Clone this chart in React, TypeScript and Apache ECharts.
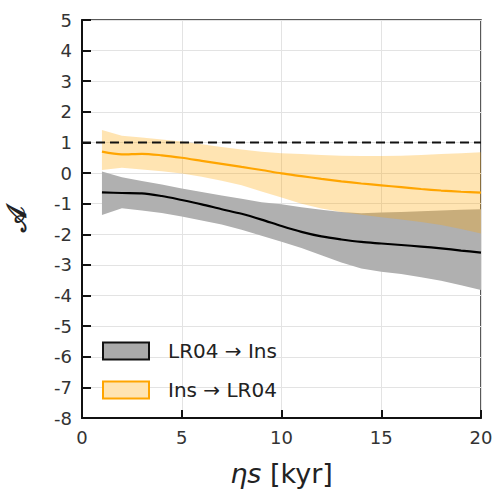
import React, { useEffect, useRef } from "react";
import * as echarts from "echarts";

const xs = [1, 2, 3, 4, 5, 6, 7, 8, 9, 10, 11, 12, 13, 14, 15, 16, 17, 18, 19, 20];

const lrMean = [-0.63, -0.65, -0.66, -0.75, -0.88, -1.02, -1.18, -1.33, -1.52, -1.73, -1.92, -2.07, -2.17, -2.25, -2.3, -2.35, -2.4, -2.46, -2.53, -2.6];
const lrUpper = [0.05, -0.14, -0.26, -0.37, -0.5, -0.62, -0.73, -0.84, -0.95, -1.02, -1.12, -1.2, -1.27, -1.31, -1.29, -1.27, -1.25, -1.22, -1.2, -1.18];
const lrLower = [-1.37, -1.15, -1.22, -1.3, -1.42, -1.55, -1.68, -1.85, -2.05, -2.24, -2.45, -2.68, -2.92, -3.12, -3.22, -3.3, -3.4, -3.52, -3.66, -3.82];

const insMean = [0.7, 0.61, 0.63, 0.58, 0.5, 0.4, 0.3, 0.2, 0.1, -0.01, -0.1, -0.19, -0.27, -0.34, -0.4, -0.46, -0.52, -0.57, -0.61, -0.64];
const insUpper = [1.41, 1.22, 1.16, 1.1, 1.03, 0.94, 0.85, 0.77, 0.7, 0.65, 0.62, 0.59, 0.57, 0.56, 0.56, 0.57, 0.59, 0.62, 0.65, 0.68];
const insLower = [0.1, 0.17, 0.12, 0.06, -0.01, -0.12, -0.25, -0.4, -0.6, -0.8, -1.0, -1.16, -1.27, -1.36, -1.44, -1.52, -1.6, -1.7, -1.83, -1.97];

const refLine = [[0, 1], [20, 1]];

const seriesNames = ["LR04 \u2192 Ins", "Ins \u2192 LR04"];

function bandSeries(name: string, upper: number[], lower: number[], fill: string, z: number) {
  const data = xs.map((x, i) => [x, lower[i], upper[i]]);
  return {
    type: "custom",
    name,
    z,
    clip: true,
    silent: true,
    encode: { x: 0, y: [1, 2] },
    data,
    itemStyle: { color: fill },
    renderItem: (params: any, api: any) => {
      if (params.dataIndex !== 0) return null;
      const pts: number[][] = [];
      for (let i = 0; i < data.length; i++) pts.push(api.coord([data[i][0], data[i][2]]));
      for (let i = data.length - 1; i >= 0; i--) pts.push(api.coord([data[i][0], data[i][1]]));
      return { type: "polygon", shape: { points: pts }, style: { fill } };
    },
  };
}

export default function App() {
  const ref = useRef<HTMLDivElement>(null);
  useEffect(() => {
    const chart = echarts.init(ref.current!, undefined, { renderer: "svg" });
    const font = "DejaVu Sans";
    chart.setOption({
      animation: false,
      backgroundColor: "#fff",
      grid: {
        left: 82,
        top: 20,
        right: 15,
        bottom: 74,
        show: true,
        containLabel: false,
        outerBoundsMode: "none",
        borderColor: "#222",
        borderWidth: 1.5,
        backgroundColor: "transparent",
      },
      legend: {
        orient: "vertical",
        left: 97,
        top: 336,
        itemWidth: 46,
        itemHeight: 17,
        itemGap: 19,
        selectedMode: false,
        textStyle: { fontFamily: font, fontSize: 20, color: "#222", padding: [0, 0, 0, 14] },
        data: [
          { name: seriesNames[0], icon: "rect", itemStyle: { color: "#aaaaaa", borderColor: "#111", borderWidth: 2 } },
          { name: seriesNames[1], icon: "rect", itemStyle: { color: "#ffe4b2", borderColor: "#ffa500", borderWidth: 2 } },
        ],
      },
      xAxis: {
        type: "value",
        min: 0,
        max: 20,
        interval: 5,
        name: "{i|\u03b7s} [kyr]",
        nameLocation: "middle",
        nameGap: 42,
        nameTextStyle: {
          fontFamily: font,
          fontSize: 27,
          color: "#222",
          rich: { i: { fontFamily: font, fontSize: 27, fontStyle: "italic", color: "#222" } },
        },
        axisLine: { show: true, onZero: false, lineStyle: { color: "#111", width: 2 } },
        axisTick: { show: true, inside: true, length: 8, lineStyle: { color: "#111", width: 2 } },
        axisLabel: { fontFamily: font, fontSize: 18, color: "#333", margin: 10 },
        splitLine: { show: true, lineStyle: { color: "#e3e3e3", width: 1 } },
      },
      yAxis: {
        type: "value",
        min: -8,
        max: 5,
        interval: 1,
        name: "\ud835\udc9c",
        nameLocation: "middle",
        nameGap: 52,
        nameRotate: 90,
        nameTextStyle: { fontFamily: font, fontSize: 27, fontWeight: "bold", color: "#222" },
        axisLine: { show: true, onZero: false, lineStyle: { color: "#111", width: 2 } },
        axisTick: { show: true, inside: true, length: 9, lineStyle: { color: "#111", width: 2 } },
        axisLabel: { fontFamily: font, fontSize: 18, color: "#333", margin: 10 },
        splitLine: { show: true, lineStyle: { color: "#e3e3e3", width: 1 } },
      },
      series: [
        bandSeries(seriesNames[0], lrUpper, lrLower, "#b0b0b0", 1),
        bandSeries(seriesNames[1], insUpper, insLower, "rgba(255,165,0,0.3)", 2),
        {
          type: "line",
          name: "lrMean",
          z: 3,
          data: xs.map((x, i) => [x, lrMean[i]]),
          showSymbol: false,
          smooth: 0.3,
          lineStyle: { color: "#000", width: 2.2 },
          silent: true,
        },
        {
          type: "line",
          name: "insMean",
          z: 4,
          data: xs.map((x, i) => [x, insMean[i]]),
          showSymbol: false,
          smooth: 0.3,
          lineStyle: { color: "#ffa500", width: 2.2 },
          silent: true,
        },
        {
          type: "line",
          name: "ref",
          z: 5,
          data: refLine,
          showSymbol: false,
          lineStyle: { color: "#111", width: 2, type: [9, 5] },
          silent: true,
        },
      ],
    });
    return () => chart.dispose();
  }, []);
  return <div ref={ref} style={{ width: 496, height: 492, position: "absolute", left: 0, top: 0 }} />;
}
